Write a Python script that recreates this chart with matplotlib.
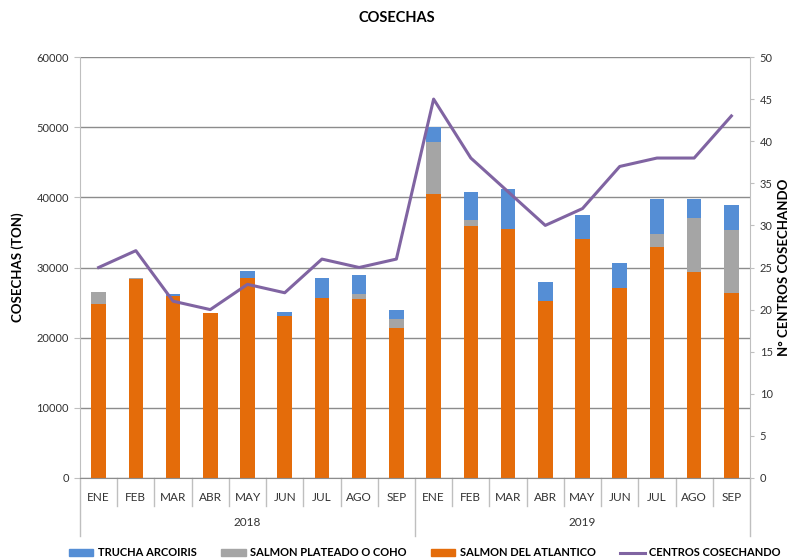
import numpy as np
import matplotlib.pyplot as plt
from matplotlib.transforms import blended_transform_factory
from matplotlib.patches import Patch
from matplotlib.lines import Line2D

plt.rcParams["font.family"] = ["Lato", "DejaVu Sans"]

# Datos
meses = ["ENE", "FEB", "MAR", "ABR", "MAY", "JUN", "JUL", "AGO", "SEP"] * 2
anios = ["2018", "2019"]
salmon_atlantico = [24800, 28400, 26000, 23500, 28500, 23100, 25700, 25450, 21400,
                    40500, 35900, 35450, 25200, 34100, 27100, 32900, 29350, 26400]
salmon_coho = [1700, 100, 0, 0, 0, 0, 0, 800, 1200,
               7400, 800, 0, 0, 0, 0, 1900, 7750, 9000]
trucha = [0, 0, 200, 0, 950, 550, 2800, 2650, 1300,
          2100, 4050, 5800, 2800, 3450, 3500, 5000, 2700, 3450]
centros = [25, 27, 21, 20, 23, 22, 26, 25, 26,
           45, 38, 34, 30, 32, 37, 38, 38, 43]

c_atl = "#E46C0A"
c_coho = "#A5A5A5"
c_tru = "#558ED5"
c_lin = "#8064A2"
grid_c = "#8C8C8C"
axis_c = "#BFBFBF"

fig = plt.figure(figsize=(7.94, 5.6), dpi=100)
ax = fig.add_axes([80 / 794, 1 - 478 / 560, 670 / 794, 421 / 560])

x = np.arange(len(meses))
w = 0.39
atl = np.array(salmon_atlantico)
coho = np.array(salmon_coho)
tru = np.array(trucha)
ax.bar(x, atl, w, color=c_atl, zorder=2)
ax.bar(x, coho, w, bottom=atl, color=c_coho, zorder=2)
ax.bar(x, tru, w, bottom=atl + coho, color=c_tru, zorder=2)

ax.set_xlim(-0.5, len(meses) - 0.5)
ax.set_ylim(0, 60000)
ax.set_yticks(np.arange(0, 60001, 10000))
ax.yaxis.grid(True, color=grid_c, linewidth=1)
ax.set_axisbelow(True)
ax.tick_params(axis="y", length=4, color=axis_c, labelsize=8, labelcolor="#333333", pad=4)
ax.set_xticks(x)
ax.set_xticklabels(meses, fontsize=8.5, color="#333333")
ax.tick_params(axis="x", length=0, pad=10)
for s in ["top", "right"]:
    ax.spines[s].set_visible(False)
ax.spines["left"].set_color(axis_c)
ax.spines["bottom"].set_color(grid_c)
ax.set_ylabel("COSECHAS (TON)", fontsize=9.5, fontweight="bold", labelpad=9)

# separadores del eje de categorias
tr = blended_transform_factory(ax.transData, ax.transAxes)
for xs in np.arange(0.5, len(meses) - 1, 1.0):
    if xs == 8.5:
        continue
    ax.plot([xs, xs], [0, -28 / 421], color=axis_c, lw=1, transform=tr, clip_on=False)
for xs in [-0.5, 8.5, len(meses) - 0.5]:
    ax.plot([xs, xs], [0, -58 / 421], color=axis_c, lw=1, transform=tr, clip_on=False)
for i, a in enumerate(anios):
    ax.text(i * 9 + 4, -44 / 421, a, transform=tr, ha="center", va="center",
            fontsize=8.5, color="#333333")

ax2 = ax.twinx()
ax2.plot(x, centros, color=c_lin, lw=2.2, zorder=3)
ax2.set_ylim(0, 50)
ax2.set_yticks(np.arange(0, 51, 5))
ax2.tick_params(axis="y", length=3, color=axis_c, labelsize=8, labelcolor="#333333", pad=4)
for s in ["top", "left", "bottom"]:
    ax2.spines[s].set_visible(False)
ax2.spines["right"].set_color(axis_c)
ax2.set_ylabel("N° CENTROS COSECHANDO", fontsize=9.5, fontweight="bold",
               rotation=90, labelpad=4)

fig.text(0.5, 1 - 18 / 560, "COSECHAS", ha="center", va="center",
         fontsize=10.5, fontweight="bold")

handles = [Patch(color=c_tru), Patch(color=c_coho), Patch(color=c_atl),
           Line2D([0], [0], color=c_lin, lw=2.2)]
labels = ["TRUCHA ARCOIRIS", "SALMON PLATEADO O COHO", "SALMON DEL ATLANTICO",
          "CENTROS COSECHANDO"]
fig.legend(handles, labels, loc="center", bbox_to_anchor=(0.535, 7 / 560), ncol=4,
           frameon=False, prop={"weight": "bold", "size": 8},
           handlelength=2.2, handleheight=0.6, columnspacing=2.2, handletextpad=0.4,
           borderpad=0)

fig.savefig("out.png", dpi=100)
